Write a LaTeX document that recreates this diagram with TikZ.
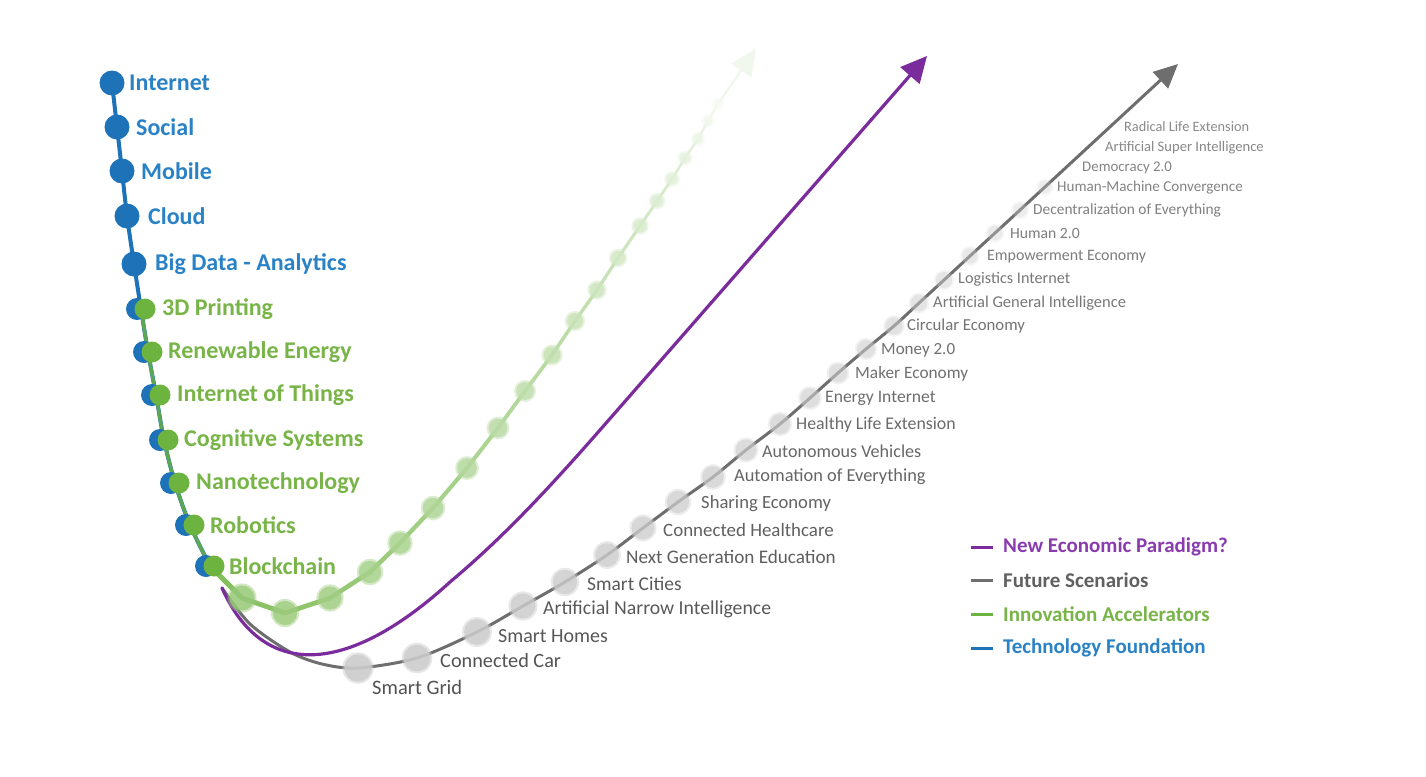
\documentclass[tikz,border=0pt]{standalone}
\usepackage{fontspec}
\setmainfont{Carlito}
\usetikzlibrary{arrows.meta}
\definecolor{tblue}{HTML}{1E72B8}
\definecolor{tbluetxt}{HTML}{2A82C6}
\definecolor{tgreen}{HTML}{6DB33F}
\definecolor{tgreentxt}{HTML}{78B447}
\definecolor{tpurple}{HTML}{7B2C9C}
\definecolor{tpurpletxt}{HTML}{8A3CAE}
\definecolor{tgray}{HTML}{6E6E6E}
\definecolor{tgraytxt}{HTML}{4E4E4E}
\definecolor{tdot}{HTML}{CCCCCC}
\tikzset{
  chainlbl/.style={anchor=west,inner sep=0pt,font=\fontsize{24}{28}\selectfont\bfseries},
  graylbl/.style={anchor=west,inner sep=0pt,text=tgraytxt},
  leglbl/.style={anchor=west,inner sep=0pt,font=\fontsize{21}{25}\selectfont\bfseries},
}
\begin{document}
\begin{tikzpicture}[x=1pt,y=-1pt]
\useasboundingbox[fill=white] (0,0) rectangle (1426,776);

% ---------- gray "Future Scenarios" curve ----------
\coordinate (s0) at (222,588);
\coordinate (s1) at (250,624);
\coordinate (s2) at (290,652);
\coordinate (s3) at (322,664);
\foreach \x/\y/\lx/\ly/\t [count=\i] in {
 358/668/372/687/Smart Grid,
 417/658/440/661/Connected Car,
 477/632/498/636/Smart Homes,
 523/606/543/609/Artificial Narrow Intelligence,
 565/582/587/584/Smart Cities,
 607/555/626/557/Next Generation Education,
 643/528/663/530/Connected Healthcare,
 678/502/701/504/Sharing Economy,
 713/477/734/477/Automation of Everything,
 746/450/762/451/Autonomous Vehicles,
 780/424/796/425/Healthy Life Extension,
 810/398/825/398/Energy Internet,
 838/373/855/374/Maker Economy,
 866/349/881/350/Money 2.0,
 894/326/907/326/Circular Economy,
 919/303/933/303/Artificial General Intelligence,
 944/280/958/279/Logistics Internet,
 970/256/987/257/Empowerment Economy,
 995/233/1010/233/Human 2.0,
 1020/210/1033/210/Decentralization of Everything,
 1045/187/1057/188/Human-Machine Convergence,
 1070/164/1082/168/Democracy 2.0,
 1095/141/1105/148/Artificial Super Intelligence,
 1122/117/1124/127/Radical Life Extension}{
  \coordinate (f\i) at (\x,\y);
  \pgfmathsetmacro\fs{20.8-0.27*\i}
  \pgfmathsetmacro\gk{int(100-1.4*\i)}
  \node[graylbl,text=tgraytxt!\gk!white,font=\fontsize{\fs}{\fs}\selectfont] (fl\i) at (\lx,\ly) {\t};
}
\coordinate (ftip) at (1178,64);
\draw[tgray,line width=3,line cap=round,-{Triangle[length=24pt,width=22pt]}]
  plot[smooth,tension=0.5] coordinates {(s0) (s1) (s2) (s3) (f1) (f2) (f3) (f4) (f5) (f6) (f7) (f8) (f9) (f10) (f11) (f12) (f13) (f14) (f15) (f16) (f17) (f18) (f19) (f20) (ftip)};
\foreach \i in {1,...,21}{
  \pgfmathsetmacro\r{14-0.35*\i}
  \pgfmathsetmacro\op{0.85-0.03*\i}
  \fill[tdot,opacity=\op*0.6] (f\i) circle[radius=\r+2];
  \fill[tdot,opacity=\op] (f\i) circle[radius=\r];
}

% ---------- purple "New Economic Paradigm" curve ----------
\coordinate (p0) at (222,588);
\coordinate (p1) at (450,582);
\coordinate (p2) at (600,430);
\coordinate (ptip) at (927,56);
\draw[tpurple,line width=3.2,line cap=round,-{Triangle[length=26pt,width=25pt]}]
  (p0) .. controls (262,678) and (345,678) .. (p1)
       .. controls (500,540) and (543,495) .. (p2) -- (ptip);

% ---------- green "Innovation Accelerators" curve ----------
\coordinate (g0) at (210,566);
\foreach \x/\y [count=\j] in {242/598,285/613,330/598,370/572,400/543,433/508,467/468,498/428,525/391,552/355,575/321,597/290,618/258,640/226,657/201,672/179,685/158,698/139,708/121,718/104}{
  \coordinate (g\j) at (\x,\y);
}
\coordinate (gtip) at (756,49);
\foreach \j [evaluate=\j as \p using int(\j-1)] in {1,...,20}{
  \pgfmathsetmacro\k{int(88-3.8*\j)}
  \pgfmathsetmacro\w{5.2-0.15*\j}
  \draw[tgreen!\k!white,line width=\w,line cap=round] (g\p) -- (g\j);
}
\draw[tgreen!10!white,line width=2.2,-{Triangle[length=26pt,width=24pt]}] (g20) -- (gtip);
\foreach \j in {1,...,20}{
  \pgfmathsetmacro\k{int(75-3.4*\j)}
  \pgfmathsetmacro\r{13-0.45*\j}
  \fill[tgreen!\k!white,opacity=0.45] (g\j) circle[radius=\r+2];
  \fill[tgreen!\k!white,opacity=0.75] (g\j) circle[radius=\r];
}

% ---------- blue / green chain ----------
\foreach \x/\y/\lx/\t [count=\i] in {
 112/83/129/Internet,
 117/127/136/Social,
 122/171/141/Mobile,
 127/216/148/Cloud,
 134/264/155/Big Data - Analytics,
 141/309/162/3D Printing,
 148/352/168/Renewable Energy,
 156/395/177/Internet of Things,
 164/440/184/Cognitive Systems,
 175/483/196/Nanotechnology,
 190/525/210/Robotics,
 210/566/229/Blockchain}{
  \coordinate (c\i) at (\x,\y);
  \ifnum\i<6
    \node[chainlbl,text=tbluetxt] (cl\i) at (\lx,\y) {\t};
  \else
    \node[chainlbl,text=tgreentxt] (cl\i) at (\lx,\y) {\t};
  \fi
}
\draw[tblue,line width=4,line cap=round] plot[smooth,tension=0.5] coordinates {(c1) (c2) (c3) (c4) (c5) (c6) (c7) (c8) (c9) (c10) (c11) (c12)};
\draw[tgreen!80!tblue,line width=3.5,line cap=round] plot[smooth,tension=0.5] coordinates {(c6) (c7) (c8) (c9) (c10) (c11) (c12)};
\foreach \i in {1,...,5}{
  \fill[tblue] (c\i) circle[radius=12.5];
}
\foreach \i in {6,...,12}{
  \fill[tblue] ([xshift=-4pt]c\i) circle[radius=11];
  \fill[tgreen] ([xshift=4pt]c\i) circle[radius=10.5];
}

% ---------- legend ----------
\node[leglbl,text=tpurpletxt] (lg1) at (1003,547) {New Economic Paradigm?};
\node[leglbl,text=tgraytxt!90!white] (lg2) at (1003,580) {Future Scenarios};
\node[leglbl,text=tgreentxt] (lg3) at (1003,614) {Innovation Accelerators};
\node[leglbl,text=tbluetxt] (lg4) at (1003,648) {Technology Foundation};
\draw[tpurple,line width=3] ([xshift=-32pt]lg1.west) -- ([xshift=-10pt]lg1.west);
\draw[tgray,line width=3] ([xshift=-32pt]lg2.west) -- ([xshift=-10pt]lg2.west);
\draw[tgreen,line width=3] ([xshift=-32pt]lg3.west) -- ([xshift=-10pt]lg3.west);
\draw[tblue,line width=3] ([xshift=-32pt]lg4.west) -- ([xshift=-10pt]lg4.west);
\end{tikzpicture}
\end{document}
